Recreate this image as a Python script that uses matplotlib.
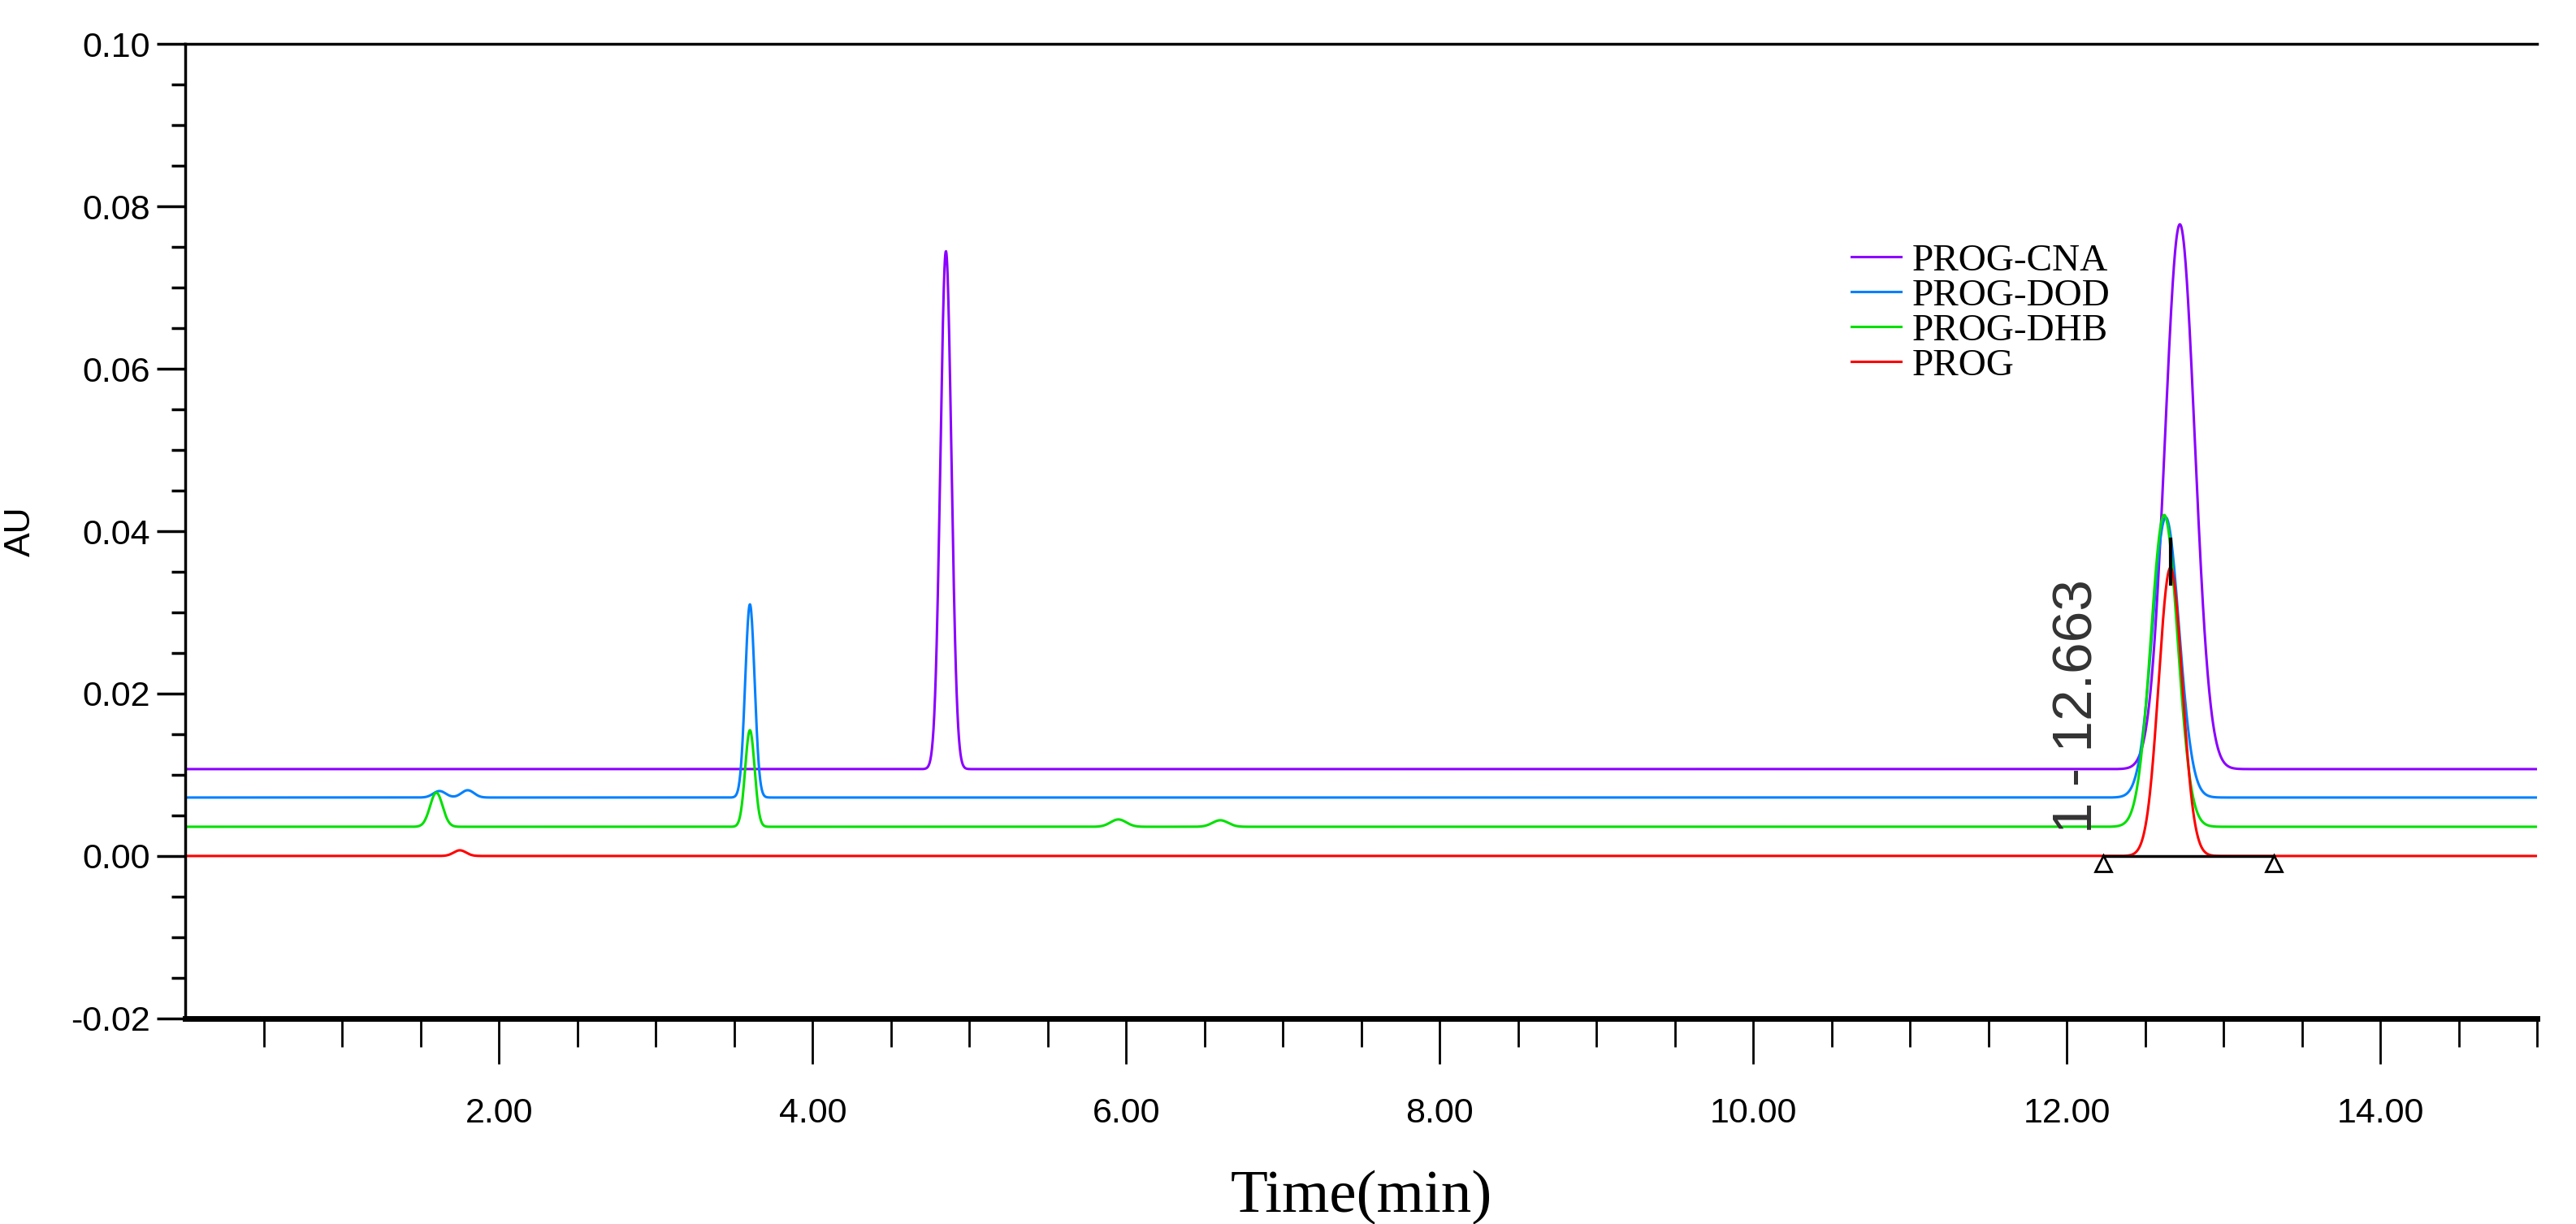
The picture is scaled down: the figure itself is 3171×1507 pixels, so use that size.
import numpy as np
import matplotlib
matplotlib.use("Agg")
import matplotlib.pyplot as plt

series_names = ["PROG-CNA", "PROG-DOD", "PROG-DHB", "PROG"]
series_colors = ["#8B00FF", "#0080FF", "#00E000", "#FF0000"]
baselines = [0.0107, 0.0072, 0.0036, 0.0]
# peaks: (retention time, height above baseline, sigma)
peaks = [
    [(4.85, 0.0638, 0.035), (12.72, 0.0671, 0.095)],
    [(1.62, 0.0008, 0.04), (1.80, 0.0009, 0.04), (3.60, 0.0238, 0.03), (12.63, 0.0345, 0.085)],
    [(1.60, 0.0042, 0.04), (3.60, 0.0119, 0.03), (5.95, 0.0009, 0.05), (6.60, 0.0008, 0.05), (12.62, 0.0384, 0.085)],
    [(1.75, 0.0007, 0.04), (12.66, 0.0355, 0.075)],
]
ann_rt = 12.663
ann_label = "1 - 12.663"
ann_start, ann_end = 12.23, 13.32

t = np.linspace(0, 15, 6000)
fig = plt.figure(figsize=(31.71, 15.07), dpi=100)
ax = fig.add_axes([0.072, 0.168, 0.913, 0.796])

for name, col, base, pk in zip(series_names, series_colors, baselines, peaks):
    y = np.full_like(t, base)
    for rt, h, s in pk:
        y += h * np.exp(-0.5 * ((t - rt) / s) ** 2)
    ax.plot(t, y, color=col, lw=2.2, label=name)

ax.plot([ann_start, ann_end], [0, 0], color="black", lw=2.5)
ax.plot([ann_start, ann_end], [-0.0009, -0.0009], ls="none", marker="^",
        mfc="white", mec="black", ms=14, mew=2)
ax.plot([ann_rt, ann_rt], [0.0335, 0.039], color="black", lw=3)
ax.text(12.07, 0.0028, ann_label, rotation=90, fontsize=50, family="Liberation Sans",
        ha="center", va="bottom", color="#333333")

ax.set_xlim(0, 15)
ax.set_ylim(-0.02, 0.10)
ax.set_xticks([2, 4, 6, 8, 10, 12, 14])
ax.set_xticklabels(["2.00", "4.00", "6.00", "8.00", "10.00", "12.00", "14.00"])
ax.set_xticks(np.arange(0.5, 15.01, 0.5), minor=True)
ax.set_yticks([-0.02, 0.0, 0.02, 0.04, 0.06, 0.08, 0.10])
ax.set_yticklabels(["-0.02", "0.00", "0.02", "0.04", "0.06", "0.08", "0.10"])
ax.set_yticks(np.arange(-0.02, 0.1001, 0.005), minor=True)
for lab in ax.get_xticklabels() + ax.get_yticklabels():
    lab.set_family("Liberation Sans")
    lab.set_fontsize(31)
ax.tick_params(axis="x", which="major", length=40, width=2, pad=30)
ax.tick_params(axis="x", which="minor", length=25, width=2)
ax.tick_params(axis="y", which="major", length=25, width=2.5, pad=6)
ax.tick_params(axis="y", which="minor", length=12, width=2.5)
ax.spines["right"].set_visible(False)
for s in ["left", "bottom", "top"]:
    ax.spines[s].set_linewidth(2.5)
ax.spines["bottom"].set_linewidth(5)
ax.set_ylabel("AU", fontsize=32, family="Liberation Sans", labelpad=30)
ax.set_xlabel("Time(min)", fontsize=54, family="Liberation Serif", labelpad=36)

leg = ax.legend(loc="upper left", bbox_to_anchor=(0.7, 0.815), frameon=False,
                prop={"family": "Liberation Serif", "size": 34}, handlelength=1.3,
                handletextpad=0.3, labelspacing=0.0, borderpad=0)
fig.savefig("out.png", dpi=100, facecolor="white")
